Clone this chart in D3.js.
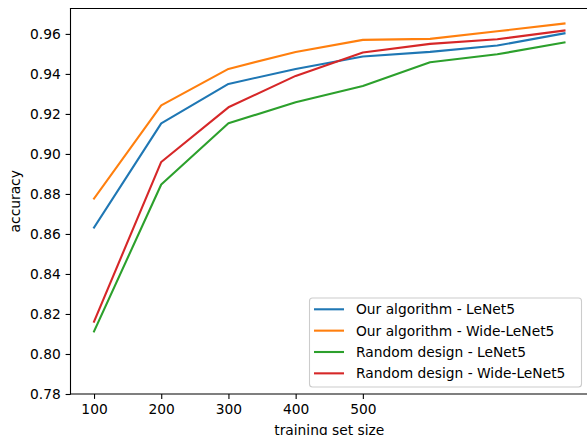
<!DOCTYPE html>
<html>
<head>
<meta charset="utf-8">
<script src="https://cdn.jsdelivr.net/npm/d3@7"></script>
<style>
  html, body { margin: 0; padding: 0; background: #fff; }
  svg { display: block; }
  text { font-family: "DejaVu Sans", sans-serif; }
</style>
</head>
<body>
<svg id="chart" width="587" height="435"></svg>
<script>
const trainingSizes = [100, 200, 300, 400, 500, 600, 700, 800];
const xTickValues = [100, 200, 300, 400, 500];
const yTickValues = [0.78, 0.80, 0.82, 0.84, 0.86, 0.88, 0.90, 0.92, 0.94, 0.96];
const seriesNames = [
  "Our algorithm - LeNet5",
  "Our algorithm - Wide-LeNet5",
  "Random design - LeNet5",
  "Random design - Wide-LeNet5"
];
const seriesColors = ["#1f77b4", "#ff7f0e", "#2ca02c", "#d62728"];
const oursLeNet5     = [0.8632, 0.9153, 0.9350, 0.9425, 0.9487, 0.9510, 0.9542, 0.9603];
const oursWideLeNet5 = [0.8777, 0.9243, 0.9425, 0.9510, 0.9570, 0.9575, 0.9613, 0.9652];
const randLeNet5     = [0.8113, 0.8847, 0.9153, 0.9258, 0.9340, 0.9458, 0.9498, 0.9557];
const randWideLeNet5 = [0.8162, 0.8960, 0.9233, 0.9390, 0.9507, 0.9550, 0.9573, 0.9617];
const seriesValues = [oursLeNet5, oursWideLeNet5, randLeNet5, randWideLeNet5];

const svg = d3.select("#chart");
const mLeft = 70.5, mRight = 588, mTop = 8.5, mBottom = 394;
const fs = 13.8;

const x = d3.scaleLinear().domain([65, 835]).range([mLeft, mRight]);
const y = d3.scaleLinear().domain([0.78, 0.9727]).range([mBottom, mTop]);

// lines
const line = d3.line().x((d, i) => x(trainingSizes[i])).y(d => y(d));
seriesValues.forEach((vals, k) => {
  svg.append("path")
    .datum(vals)
    .attr("d", line)
    .attr("fill", "none")
    .attr("stroke", seriesColors[k])
    .attr("stroke-width", 2.1)
    .attr("stroke-linejoin", "round")
    .attr("stroke-linecap", "square");
});

// axes
const xAxis = d3.axisBottom(x).tickValues(xTickValues).tickSize(4.9).tickPadding(4.9)
  .tickFormat(d3.format("d"));
const gx = svg.append("g").attr("transform", `translate(0,${mBottom})`).call(xAxis);
const yAxis = d3.axisLeft(y).tickValues(yTickValues).tickSize(4.9).tickPadding(4.9)
  .tickFormat(d3.format(".2f"));
const gy = svg.append("g").attr("transform", `translate(${mLeft},0)`).call(yAxis);
[gx, gy].forEach(g => {
  g.select(".domain").remove();
  g.selectAll(".tick line").attr("stroke", "#000").attr("stroke-width", 1.1);
  g.selectAll(".tick text").attr("fill", "#000").style("font-size", fs + "px")
    .style("font-family", "DejaVu Sans");
});
gx.selectAll(".tick text").attr("dy", "0.71em");

// spines
[[mLeft, mTop, mLeft, mBottom], [mLeft, mTop, mRight, mTop],
 [mLeft, mBottom, mRight, mBottom], [mRight, mTop, mRight, mBottom]].forEach(s => {
  svg.append("line").attr("x1", s[0]).attr("y1", s[1]).attr("x2", s[2]).attr("y2", s[3])
    .attr("stroke", "#000").attr("stroke-width", 1.1).attr("stroke-linecap", "square");
});

// axis labels
svg.append("text").attr("x", (mLeft + mRight) / 2).attr("y", 435)
  .attr("text-anchor", "middle").style("font-size", fs + "px").text("training set size");
svg.append("text").attr("transform", `translate(19.5,${(mTop + mBottom) / 2}) rotate(-90)`)
  .attr("text-anchor", "middle").style("font-size", fs + "px").text("accuracy");

// legend
const lg = svg.append("g");
lg.append("rect").attr("x", 309.5).attr("y", 298).attr("width", 272).attr("height", 89)
  .attr("rx", 3).attr("fill", "#fff").attr("fill-opacity", 0.8)
  .attr("stroke", "#cccccc").attr("stroke-width", 1.1);
seriesNames.forEach((name, k) => {
  const cy = 309.3 + k * 21.35;
  lg.append("line").attr("x1", 314).attr("x2", 344).attr("y1", cy).attr("y2", cy)
    .attr("stroke", seriesColors[k]).attr("stroke-width", 2.1);
  lg.append("text").attr("x", 356).attr("y", cy).attr("dy", "0.36em")
    .style("font-size", fs + "px").attr("fill", "#000").text(name);
});
</script>
</body>
</html>
